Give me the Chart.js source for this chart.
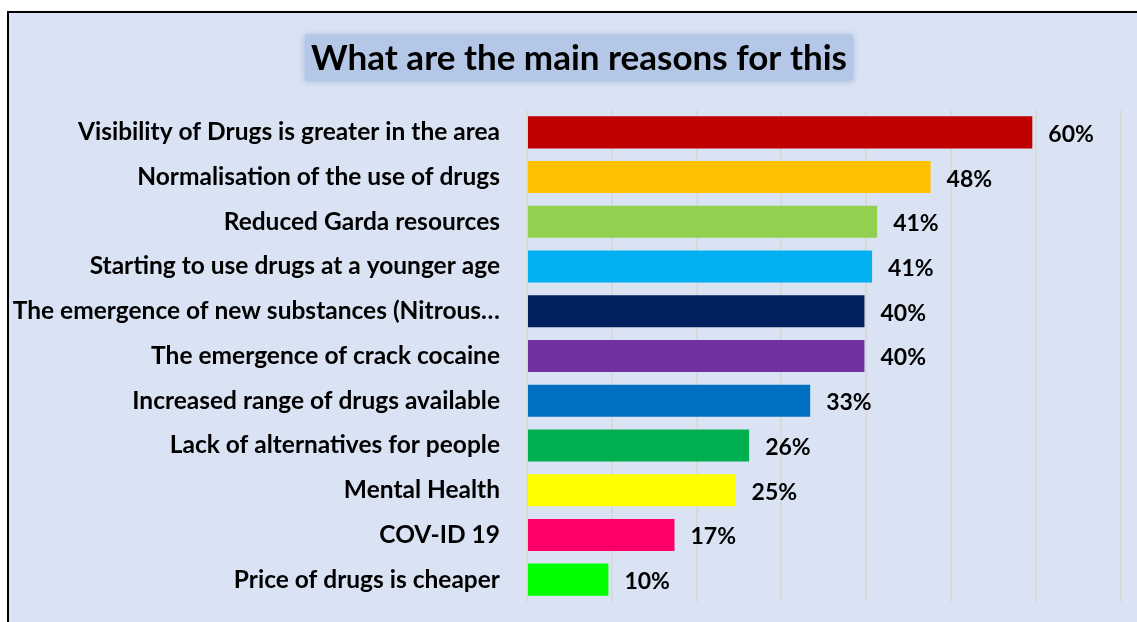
<!DOCTYPE html>
<html>
<head>
<meta charset="utf-8">
<script src="https://cdn.jsdelivr.net/npm/chart.js@4.4.1/dist/chart.umd.min.js"></script>
<style>
  html, body { margin: 0; padding: 0; background: #ffffff; overflow: hidden; }
  #wrap { position: relative; width: 1137px; height: 622px; overflow: hidden; }
  #panel { position: absolute; left: 7px; top: 11px; width: 1300px; height: 800px;
           background: #dae3f3; border: 2px solid #000; box-sizing: border-box;
           box-shadow: 1px 1px 2px rgba(0,0,0,0.35); }
  #c { position: absolute; left: 0; top: 0; }
</style>
</head>
<body>
<div id="wrap">
  <div id="panel"></div>
  <canvas id="c" width="1137" height="622"></canvas>
</div>
<script>
const chartTitle = "What are the main reasons for this";
const categories = [
  "Visibility of Drugs is greater in the area",
  "Normalisation of the use of drugs",
  "Reduced Garda resources",
  "Starting to use drugs at a younger age",
  "The emergence of new substances (Nitrous\u2026",
  "The emergence of crack cocaine",
  "Increased range of drugs available",
  "Lack of alternatives for people",
  "Mental Health",
  "COV-ID 19",
  "Price of drugs is cheaper"
];
const values = [59.6, 47.6, 41.3, 40.7, 39.8, 39.8, 33.4, 26.2, 24.6, 17.4, 9.6];
const barColors = ["#c00000", "#ffc000", "#92d050", "#00b0f0", "#002060", "#7030a0",
                   "#0070c0", "#00b050", "#ffff00", "#ff0066", "#00ff00"];
const xTicks = [0, 10, 20, 30, 40, 50, 60, 70];

const FONT = "Lato, 'Open Sans', sans-serif";

const titlePlugin = {
  id: 'boxTitle',
  beforeDraw(chart) {
    const ctx = chart.ctx;
    ctx.save();
    ctx.font = "bold 35px " + FONT;
    const w = ctx.measureText(chartTitle).width;
    const cx = 579, cy = 57.5;
    const bw = w + 12, bh = 46;
    ctx.shadowColor = "rgba(150,175,220,0.9)";
    ctx.shadowBlur = 6;
    ctx.fillStyle = "#b4c7e7";
    ctx.fillRect(cx - bw / 2, cy - bh / 2, bw, bh);
    ctx.shadowBlur = 0;
    ctx.fillStyle = "#000";
    ctx.textAlign = "center";
    ctx.textBaseline = "middle";
    ctx.fillText(chartTitle, cx, cy + 1);
    ctx.restore();
  }
};

const valueLabels = {
  id: 'valueLabels',
  afterDatasetsDraw(chart) {
    const ctx = chart.ctx;
    ctx.save();
    ctx.font = "bold 23px " + FONT;
    ctx.fillStyle = "#000";
    ctx.textAlign = "left";
    ctx.textBaseline = "middle";
    chart.getDatasetMeta(0).data.forEach((bar, i) => {
      ctx.fillText(Math.round(values[i]) + "%", bar.x + 16, bar.y + 2);
    });
    ctx.restore();
  }
};

function noPad(axis) {
  axis.paddingTop = 0; axis.paddingBottom = 0;
  axis.paddingLeft = 0; axis.paddingRight = 0;
}

new Chart(document.getElementById('c'), {
  type: 'bar',
  data: {
    labels: categories,
    datasets: [{
      data: values,
      backgroundColor: barColors,
      borderWidth: 0,
      barPercentage: 0.716,
      categoryPercentage: 1.0
    }]
  },
  options: {
    indexAxis: 'y',
    responsive: false,
    devicePixelRatio: 1,
    animation: false,
    layout: { padding: { left: 0, right: 16.5, top: 110, bottom: 20 } },
    plugins: {
      legend: { display: false },
      title: { display: false },
      tooltip: { enabled: false }
    },
    scales: {
      x: {
        min: 0, max: 70,
        afterBuildTicks(axis) { axis.ticks = xTicks.map(v => ({ value: v })); },
        afterFit(axis) { axis.height = 0; noPad(axis); },
        ticks: { display: false },
        grid: { color: "#d9d9d9", lineWidth: 2, drawTicks: false },
        border: { display: false }
      },
      y: {
        afterFit(axis) { axis.width = 527; noPad(axis); },
        ticks: {
          color: "#000",
          padding: 27,
          font: { family: FONT, size: 24.5, weight: 'bold' }
        },
        grid: { display: false, drawTicks: false },
        border: { display: false }
      }
    }
  },
  plugins: [titlePlugin, valueLabels]
});
</script>
</body>
</html>
